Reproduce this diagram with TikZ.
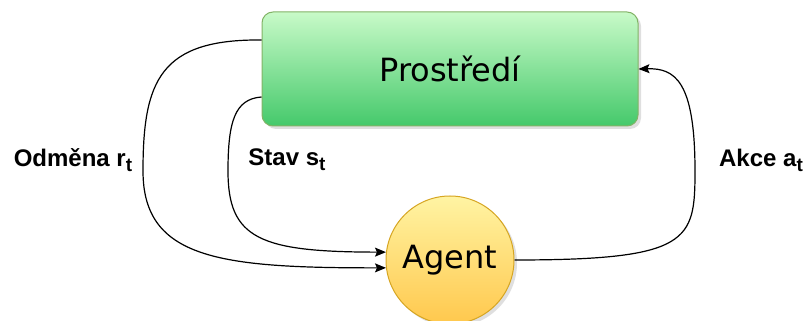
\documentclass[tikz,border=0pt]{standalone}
\usepackage{fontspec}
\setmainfont{DejaVu Sans}
\newfontfamily\labelfont{Liberation Sans}
\usetikzlibrary{arrows.meta, positioning, calc, shadows, shapes.geometric}
\definecolor{envtop}{HTML}{C8FAC8}
\definecolor{envbot}{HTML}{45C96B}
\definecolor{envline}{HTML}{82B366}
\definecolor{agtop}{HTML}{FFF4A3}
\definecolor{agbot}{HTML}{FFC84D}
\definecolor{agline}{HTML}{D6A521}
\newcommand{\subt}{\raisebox{-0.4ex}{\fontsize{19}{22}\selectfont t}}

\begin{document}
\begin{tikzpicture}[
    x=1pt, y=1pt,
    envbox/.style={rectangle, rounded corners=11pt, draw=envline, line width=1pt,
        top color=envtop, bottom color=envbot, minimum width=376pt, minimum height=114pt,
        font=\fontsize{32}{38}\selectfont,
        drop shadow={shadow xshift=3pt, shadow yshift=-3pt, fill=black!25}},
    agentnode/.style={circle, draw=agline, line width=1pt, top color=agtop, bottom color=agbot,
        minimum size=128pt, inner sep=0pt, font=\fontsize{32}{38}\selectfont,
        drop shadow={shadow xshift=3pt, shadow yshift=-3pt, fill=black!25}},
    edgelabel/.style={font=\labelfont\bfseries\fontsize{24}{28}\selectfont},
    arrow/.style={line width=1.2pt, -{Stealth[length=11pt,width=9pt,inset=2pt]}}
]
    \useasboundingbox (0,0) rectangle (807,321);

    % Environment and agent
    \node [envbox] (env) at (450,252) {Prostředí};
    \node [agentnode] (agent) at (450,61) {Agent};

    % Helper points
    \coordinate (rstart) at ($(env.west)+(0,29)$);
    \coordinate (sstart) at ($(env.west)+(0,-28)$);

    % Arrows
    \draw [arrow] (rstart) .. controls (160,282) and (143,240) .. (143,150)
        .. controls (143,62) and (220,53) .. (agent.187);
    \draw [arrow] (sstart) .. controls (235,222) and (228,200) .. (228,150)
        .. controls (228,82) and (260,69) .. (agent.173);
    \draw [arrow] (agent.east) .. controls (690,61) and (695,80) .. (695,150)
        .. controls (695,240) and (675,253) .. (env.east);

    % Labels
    \node [edgelabel] (reward) at (73,161) {Odměna r\subt};
    \node [edgelabel] (state) at (287,161) {Stav s\subt};
    \node [edgelabel] (action) at (761,161) {Akce a\subt};
\end{tikzpicture}
\end{document}
